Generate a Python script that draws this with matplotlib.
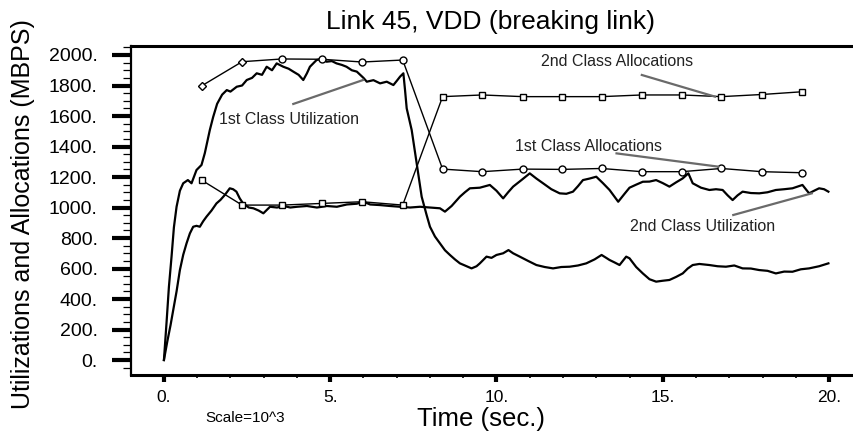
import numpy as np
import matplotlib
matplotlib.use("Agg")
import matplotlib.pyplot as plt
from matplotlib.ticker import MultipleLocator, FuncFormatter

plt.rcParams['font.family'] = ['Liberation Sans', 'DejaVu Sans']

# 1st class utilization (time s, MBPS)
util1_t = [0.0, 0.08, 0.15, 0.23, 0.3, 0.38, 0.48, 0.58, 0.72, 0.83, 0.98, 1.13, 1.23, 1.38,
           1.48, 1.6, 1.75, 1.89, 2.0, 2.19, 2.35, 2.49, 2.65, 2.79, 2.95, 3.09, 3.25, 3.39,
           3.59, 3.75, 3.89, 4.05, 4.19, 4.3, 4.39, 4.59, 4.75, 4.89, 5.05, 5.19, 5.35, 5.49,
           5.65, 5.8, 6.0, 6.1, 6.3, 6.5, 6.7, 6.9, 7.0, 7.1, 7.2, 7.25, 7.3, 7.45, 7.6, 7.75,
           7.9, 8.0, 8.15, 8.3, 8.45, 8.6, 8.75, 8.9, 9.05, 9.25, 9.4, 9.5, 9.7, 9.85, 10.0,
           10.2, 10.36, 10.5, 10.7, 10.95, 11.2, 11.45, 11.7, 11.95, 12.2, 12.45, 12.7, 12.95,
           13.16, 13.3, 13.4, 13.55, 13.7, 13.9, 14.0, 14.2, 14.4, 14.6, 14.8, 15.0, 15.2,
           15.4, 15.6, 15.75, 15.9, 16.1, 16.4, 16.65, 16.9, 17.15, 17.4, 17.65, 17.9, 18.15,
           18.4, 18.65, 18.9, 19.15, 19.4, 19.7, 19.98]
util1_v = [0, 250, 480, 680, 870, 1005, 1110, 1159, 1180, 1159, 1246, 1279, 1357, 1508,
           1593, 1680, 1740, 1770, 1760, 1792, 1800, 1836, 1850, 1880, 1870, 1923, 1900, 1945,
           1923, 1910, 1891, 1870, 1836, 1880, 1923, 1967, 1975, 1956, 1960, 1945, 1935, 1923,
           1900, 1891, 1850, 1825, 1835, 1814, 1825, 1803, 1830, 1858, 1880, 1770, 1650, 1508,
           1290, 1071, 950, 874, 810, 765, 720, 689, 660, 634, 620, 601, 615, 634, 678, 670,
           689, 700, 721, 700, 678, 650, 623, 610, 601, 610, 612, 620, 634, 660, 689, 670, 656,
           640, 623, 678, 667, 610, 568, 530, 514, 520, 525, 545, 568, 600, 623, 630, 623, 615,
           612, 620, 601, 600, 590, 585, 568, 580, 579, 595, 601, 615, 634]

# 2nd class utilization
util2_t = [0.0, 0.1, 0.2, 0.28, 0.38, 0.48, 0.58, 0.68, 0.78, 0.88, 0.98, 1.08, 1.18, 1.28,
           1.43, 1.58, 1.7, 1.83, 1.98, 2.08, 2.18, 2.28, 2.38, 2.55, 2.69, 2.85, 2.99, 3.19,
           3.4, 3.6, 3.8, 4.0, 4.3, 4.6, 4.9, 5.2, 5.5, 5.8, 6.0, 6.2, 6.5, 6.8, 7.1, 7.4, 7.7,
           8.0, 8.3, 8.45, 8.65, 8.9, 9.05, 9.2, 9.5, 9.8, 10.0, 10.2, 10.35, 10.5, 10.75, 11.0,
           11.2, 11.4, 11.65, 11.9, 12.1, 12.3, 12.45, 12.6, 12.8, 13.0, 13.2, 13.4, 13.66,
           13.85, 14.0, 14.2, 14.4, 14.6, 14.8, 15.0, 15.2, 15.4, 15.6, 15.77, 15.9, 16.15,
           16.4, 16.6, 16.8, 16.95, 17.1, 17.25, 17.4, 17.65, 17.9, 18.15, 18.4, 18.65, 18.9,
           19.2, 19.4, 19.55, 19.7, 19.85, 19.98]
util2_v = [0, 120, 230, 328, 450, 590, 690, 765, 830, 874, 880, 874, 910, 940,
           980, 1027, 1050, 1082, 1126, 1120, 1104, 1060, 1027, 1000, 995, 980, 962, 1005,
           1000, 1010, 1000, 1005, 1010, 1000, 1010, 1005, 1020, 1025, 1038, 1020, 1016, 1010,
           1005, 1000, 1005, 1000, 995, 973, 1010, 1071, 1100, 1126, 1130, 1148, 1110, 1060,
           1100, 1137, 1180, 1224, 1190, 1159, 1120, 1093, 1090, 1104, 1140, 1180, 1190, 1202,
           1160, 1115, 1038, 1090, 1130, 1150, 1169, 1170, 1180, 1160, 1137, 1165, 1191, 1224,
           1159, 1130, 1115, 1120, 1115, 1080, 1049, 1080, 1104, 1095, 1093, 1100, 1115, 1120,
           1126, 1148, 1093, 1110, 1126, 1120, 1104]

# allocations, one every ~1.2 s
alloc_t = [1.13, 2.35, 3.55, 4.76, 5.96, 7.18, 8.38, 9.57, 10.79, 11.97, 13.16, 14.37,
           15.57, 16.76, 17.98, 19.19]
alloc1_v = [1797, 1956, 1974, 1972, 1954, 1967, 1252, 1235, 1252, 1250, 1256, 1235,
            1235, 1256, 1235, 1228]
alloc2_v = [1180, 1016, 1016, 1027, 1038, 1016, 1727, 1738, 1727, 1727, 1727, 1738,
            1738, 1727, 1741, 1759]

# annotations: label, text position, leader start, leader end (data units)
notes = [
    ("1st Class Utilization", (3.76, 1574), (3.89, 1679), (5.99, 1836)),
    ("2nd Class Allocations", (13.64, 1956), (14.37, 1869), (16.57, 1727)),
    ("1st Class Allocations", (12.78, 1399), (13.61, 1355), (16.67, 1268)),
    ("2nd Class Utilization", (16.21, 874), (17.12, 951), (19.48, 1093)),
]

fig = plt.figure(figsize=(8.54, 4.32), dpi=100)
ax = fig.add_axes([131/854, 57/432, 1 - 131/854, 329/432])

ax.plot(util1_t, util1_v, color='black', lw=1.6)
ax.plot(util2_t, util2_v, color='black', lw=1.6)

ax.plot(alloc_t, alloc1_v, color='black', lw=1.0)
ax.plot(alloc_t[:2], alloc1_v[:2], ls='none', marker='D', ms=4.5, mfc='white', mec='black', mew=1.0)
ax.plot(alloc_t[2:], alloc1_v[2:], ls='none', marker='o', ms=5, mfc='white', mec='black', mew=1.0)
ax.plot(alloc_t, alloc2_v, color='black', lw=1.0, marker='s', ms=4, mfc='white', mec='black', mew=1.0)

for label, txt, p0, p1 in notes:
    ax.plot([p0[0], p1[0]], [p0[1], p1[1]], color='#6a6a6a', lw=1.6)
    ax.text(txt[0], txt[1], label, fontsize=11.5, color='#222222', ha='center', va='center')

ax.set_xlim(-0.99, 20.75)
ax.set_ylim(-98, 2059)

ax.xaxis.set_major_locator(MultipleLocator(5))
ax.xaxis.set_minor_locator(MultipleLocator(1))
ax.yaxis.set_major_locator(MultipleLocator(200))
ax.yaxis.set_minor_locator(MultipleLocator(50))
fmt = FuncFormatter(lambda v, p: "%d." % int(round(v)))
ax.xaxis.set_major_formatter(fmt)
ax.yaxis.set_major_formatter(fmt)

ax.tick_params(axis='y', which='major', direction='out', length=14, width=3, pad=10, labelsize=14)
ax.tick_params(axis='y', which='minor', direction='out', length=6, width=0.9)
ax.tick_params(axis='x', which='major', direction='out', length=5, width=3, pad=6, labelsize=12.5)
ax.tick_params(axis='x', which='minor', direction='out', length=2.5, width=1.2)

ax.spines['right'].set_visible(False)
ax.spines['left'].set_linewidth(1.6)
ax.spines['bottom'].set_linewidth(2.2)
ax.spines['top'].set_linewidth(2.2)

fig.text(491/854, 1 - 22/432, "Link 45, VDD (breaking link)", fontsize=19, ha='center', va='center')
fig.text(481/854, 1 - 419/432, "Time (sec.)", fontsize=18.5, ha='center', va='center')
fig.text(245/854, 1 - 418/432, "Scale=10^3", fontsize=11, ha='center', va='center')
fig.text(23/854, 1 - 214/432, "Utilizations and Allocations (MBPS)", fontsize=18,
         rotation=90, ha='center', va='center')

fig.savefig("out.png", dpi=100)
